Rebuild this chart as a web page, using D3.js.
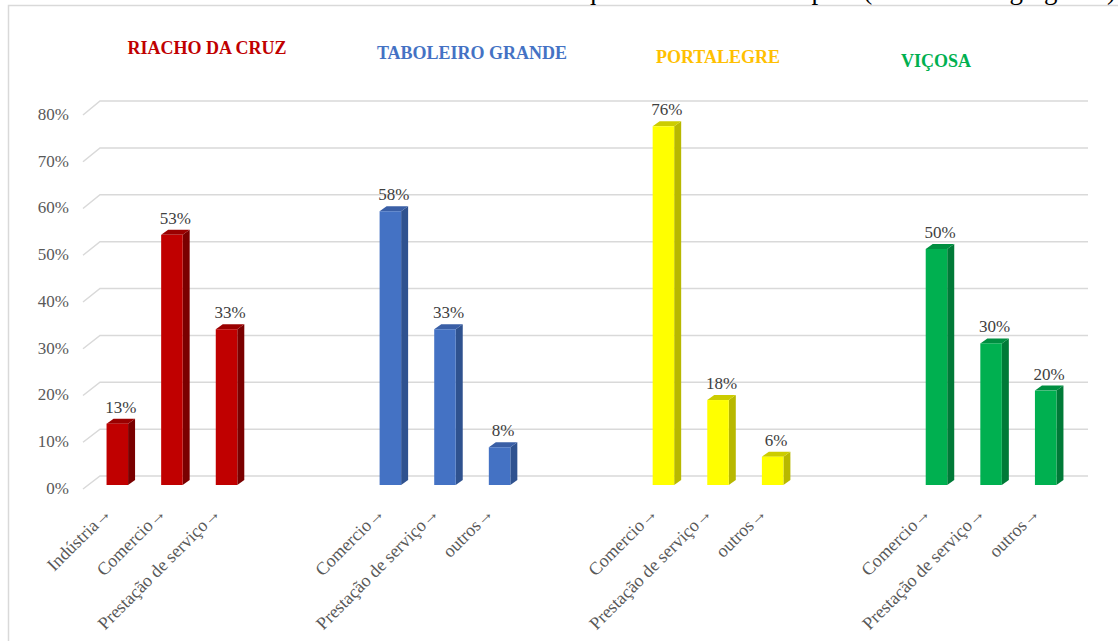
<!DOCTYPE html>
<html lang="pt">
<head>
<meta charset="utf-8">
<script src="https://cdn.jsdelivr.net/npm/d3@7"></script>
<style>
  html, body { margin: 0; padding: 0; background: #fff; }
  svg { display: block; }
</style>
</head>
<body>
<svg id="chart" width="1118" height="641"></svg>
<script>
// Municípios e atividades econômicas (resultados agregados)
const municipios = ["RIACHO DA CRUZ", "TABOLEIRO GRANDE", "PORTALEGRE", "VIÇOSA"];
const atividadesRiacho = ["Indústria", "Comercio", "Prestação de serviço"];
const valoresRiacho = [0.13, 0.53, 0.33];
const atividadesTaboleiro = ["Comercio", "Prestação de serviço", "outros"];
const valoresTaboleiro = [0.58, 0.33, 0.08];
const atividadesPortalegre = ["Comercio", "Prestação de serviço", "outros"];
const valoresPortalegre = [0.76, 0.18, 0.06];
const atividadesVicosa = ["Comercio", "Prestação de serviço", "outros"];
const valoresVicosa = [0.50, 0.30, 0.20];
const ticksY = [0, 0.1, 0.2, 0.3, 0.4, 0.5, 0.6, 0.7, 0.8];
const tituloGrafico = "Gráfico 11 – Atividades econômicas mais frequentes dos 4 municípios (Resultados agregados)";

// Colour per município: front, side, top faces and heading
const cores = [
  { front: "#C00000", side: "#7A0000", top: "#9A0000", title: "#C00000" },
  { front: "#4472C4", side: "#2F528F", top: "#3A5FA6", title: "#4472C4" },
  { front: "#FFFF00", side: "#B8B800", top: "#CCCC00", title: "#FFC000" },
  { front: "#00B050", side: "#007A37", top: "#008F41", title: "#00B050" }
];

// Category slots: three activities per município, two empty slots between groups
const grupos = [
  { nome: municipios[0], atividades: atividadesRiacho, valores: valoresRiacho },
  { nome: municipios[1], atividades: atividadesTaboleiro, valores: valoresTaboleiro },
  { nome: municipios[2], atividades: atividadesPortalegre, valores: valoresPortalegre },
  { nome: municipios[3], atividades: atividadesVicosa, valores: valoresVicosa }
];
const slots = [];
grupos.forEach((g, gi) => {
  g.atividades.forEach((a, ai) => {
    slots.push({ key: `g${gi}-${ai}`, label: a, value: g.valores[ai], grupo: gi });
  });
  if (gi < grupos.length - 1) {
    slots.push({ key: `g${gi}-gap0`, label: "", value: null, grupo: gi });
    slots.push({ key: `g${gi}-gap1`, label: "", value: null, grupo: gi });
  }
});
const barras = slots.filter(s => s.value !== null);

const svg = d3.select("#chart");
const serif = "'Liberation Serif', 'Times New Roman', serif";

// Geometry of the pseudo-3D plot
const depth = { dx: 7, dy: 5 };       // bar depth offset
const wallLeft = 83, wallBack = 100, wallRight = 1088;

const x = d3.scaleBand().domain(slots.map(s => s.key)).range([90, 1073]).padding(0);
const barW = x.bandwidth() * 0.394;
const y = d3.scaleLinear().domain([0, 0.8]).range([485, 107.4]);      // bar front plane
const yBack = d3.scaleLinear().domain([0, 0.8]).range([476, 101]);    // back wall
const yLeft = d3.scaleLinear().domain([0, 0.8]).range([489, 115]);    // side wall front edge

// Outer frame
svg.append("path")
  .attr("d", "M8.5,641 L8.5,5.5 L1118,5.5")
  .attr("fill", "none").attr("stroke", "#d9d9d9").attr("stroke-width", 1.5);

// Caption above the frame, running off the top edge
svg.append("text")
  .attr("x", 1116).attr("y", -1)
  .attr("text-anchor", "end")
  .attr("font-family", serif).attr("font-size", 27)
  .attr("fill", "#000")
  .text(tituloGrafico);

// Wall gridlines
const grid = svg.append("g").attr("class", "grid");
ticksY.forEach(t => {
  grid.append("path")
    .attr("d", `M${wallLeft},${yLeft(t)} L${wallBack},${yBack(t)} L${wallRight},${yBack(t)}`)
    .attr("fill", "none").attr("stroke", "#d9d9d9").attr("stroke-width", 1.5);
});

// Y axis labels
const fmt = d3.format(".0%");
svg.append("g").selectAll("text").data(ticksY).join("text")
  .attr("x", 69).attr("y", d => yLeft(d) + 1)
  .attr("text-anchor", "end").attr("dominant-baseline", "middle")
  .attr("font-family", serif).attr("font-size", 17).attr("fill", "#595959")
  .text(d => fmt(d));

// Bars: front, side and top faces
const bx = d => x(d.key) + (x.bandwidth() - barW) / 2;
const bars = svg.append("g").attr("class", "bars");
const bg = bars.selectAll("g").data(barras).join("g");
bg.append("path")
  .attr("fill", d => cores[d.grupo].side)
  .attr("d", d => {
    const x1 = bx(d) + barW, yt = y(d.value), yb = y(0);
    return `M${x1},${yt} L${x1 + depth.dx},${yt - depth.dy} L${x1 + depth.dx},${yb - depth.dy} L${x1},${yb} Z`;
  });
bg.append("path")
  .attr("fill", d => cores[d.grupo].top)
  .attr("d", d => {
    const x0 = bx(d), x1 = x0 + barW, yt = y(d.value);
    return `M${x0},${yt} L${x0 + depth.dx},${yt - depth.dy} L${x1 + depth.dx},${yt - depth.dy} L${x1},${yt} Z`;
  });
bg.append("rect")
  .attr("x", d => bx(d)).attr("y", d => y(d.value))
  .attr("width", barW).attr("height", d => y(0) - y(d.value))
  .attr("fill", d => cores[d.grupo].front);

// Value labels
svg.append("g").selectAll("text").data(barras).join("text")
  .attr("x", d => bx(d) + (barW + depth.dx) / 2)
  .attr("y", d => y(d.value) - 11)
  .attr("text-anchor", "middle")
  .attr("font-family", serif).attr("font-size", 17).attr("fill", "#404040")
  .text(d => fmt(d.value));

// Category labels, rotated
svg.append("g").selectAll("text").data(slots.filter(s => s.label)).join("text")
  .attr("transform", d => `translate(${x(d.key) + x.bandwidth() / 2 - 5},514) rotate(-45)`)
  .attr("text-anchor", "end")
  .attr("font-family", serif).attr("font-size", 18).attr("fill", "#595959")
  .text(d => d.label + "→");

// Município headings
const cabecalhos = [
  { x: 207, y: 54 },
  { x: 472, y: 59 },
  { x: 718, y: 63 },
  { x: 936, y: 67 }
];
svg.append("g").selectAll("text").data(grupos).join("text")
  .attr("x", (d, i) => cabecalhos[i].x).attr("y", (d, i) => cabecalhos[i].y)
  .attr("text-anchor", "middle")
  .attr("font-family", serif).attr("font-size", 18).attr("font-weight", "bold")
  .attr("fill", (d, i) => cores[i].title)
  .text(d => d.nome);
</script>
</body>
</html>
